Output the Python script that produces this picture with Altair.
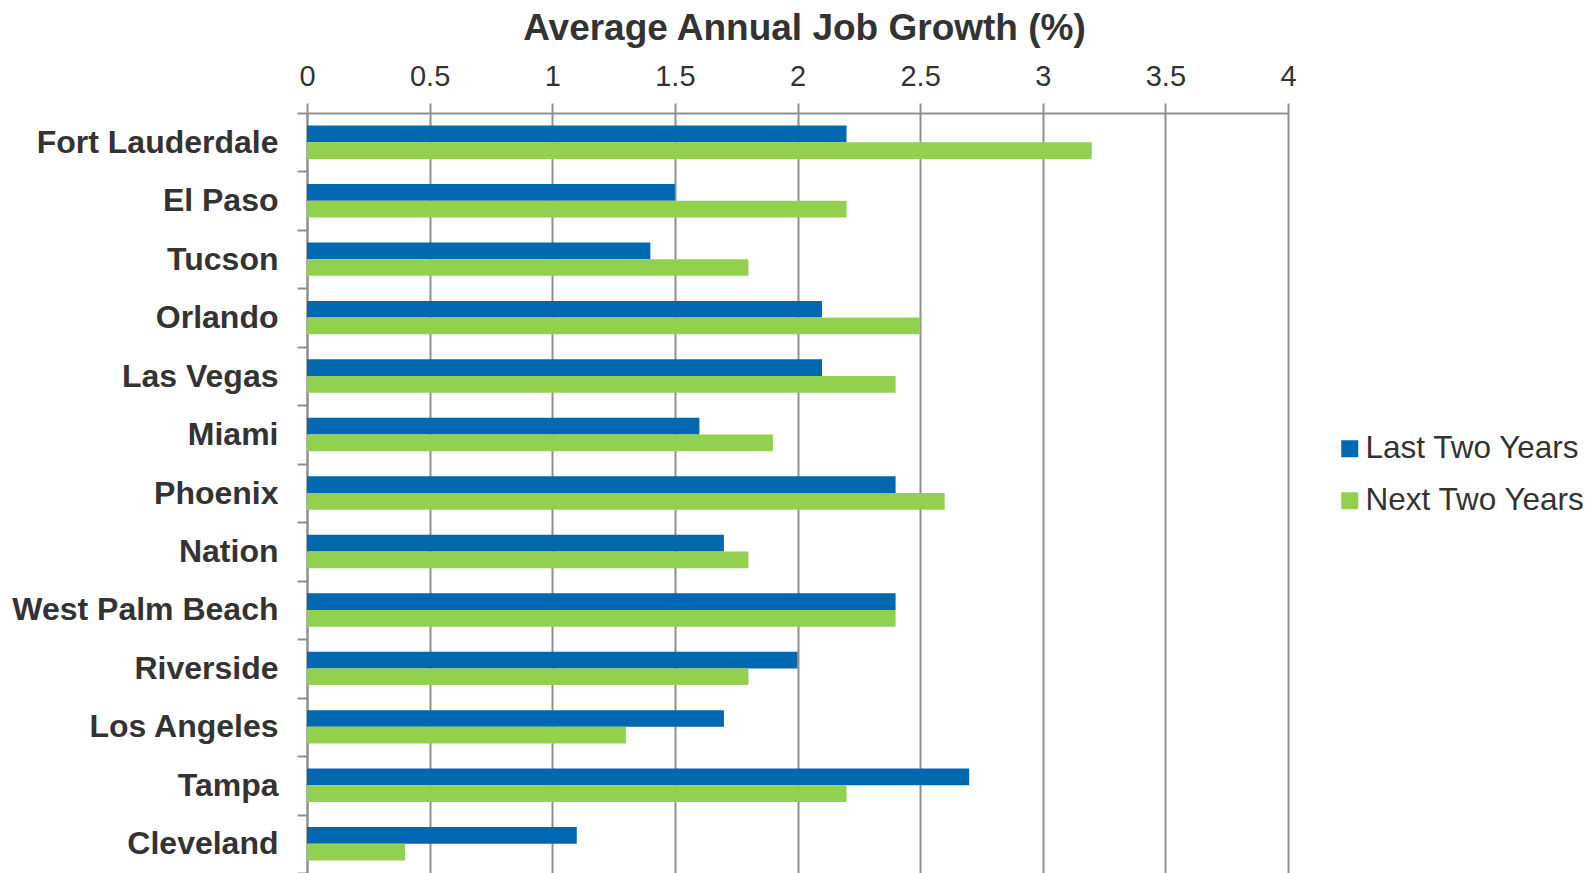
import altair as alt
import pandas as pd

cities = ["Fort Lauderdale", "El Paso", "Tucson", "Orlando", "Las Vegas", "Miami",
          "Phoenix", "Nation", "West Palm Beach", "Riverside", "Los Angeles",
          "Tampa", "Cleveland"]
last_two = [2.2, 1.5, 1.4, 2.1, 2.1, 1.6, 2.4, 1.7, 2.4, 2.0, 1.7, 2.7, 1.1]
next_two = [3.2, 2.2, 1.8, 2.5, 2.4, 1.9, 2.6, 1.8, 2.4, 1.8, 1.3, 2.2, 0.4]
series = ["Last Two Years", "Next Two Years"]
colors = ["#0068B1", "#92D050"]
x_ticks = [0, 0.5, 1, 1.5, 2, 2.5, 3, 3.5, 4]

rows = []
for c, a, b in zip(cities, last_two, next_two):
    rows.append({"city": c, "series": series[0], "value": a})
    rows.append({"city": c, "series": series[1], "value": b})
df = pd.DataFrame(rows)

FONT = "Liberation Sans"
GRAY = "#8f8f8f"
TXT = "#333333"

chart = alt.Chart(df).mark_bar().encode(
    x=alt.X("value:Q",
            scale=alt.Scale(domain=[0, 4], nice=False),
            axis=alt.Axis(orient="top", values=x_ticks, title="Average Annual Job Growth (%)",
                          format="~g",
                          labelFontSize=29, labelColor=TXT, labelFont=FONT,
                          labelBaseline="alphabetic", labelPadding=18,
                          labelFlush=False,
                          tickSize=10, tickColor=GRAY, tickWidth=2,
                          domainColor=GRAY, domainWidth=2,
                          grid=True, gridColor=GRAY, gridWidth=2,
                          titleFontSize=37, titleFontWeight="bold", titleColor=TXT,
                          titleFont=FONT, titleBaseline="alphabetic", titleY=-74,
                          titleX=497, titleAnchor="middle", titleAlign="center",
                          titlePadding=0)),
    y=alt.Y("city:N", sort=cities,
            scale=alt.Scale(paddingInner=0, paddingOuter=0),
            axis=alt.Axis(title=None, labelFontSize=32, labelFontWeight="bold",
                          labelColor=TXT, labelFont=FONT, labelPadding=19,
                          labelLimit=400,
                          tickBand="extent", tickSize=10, tickColor=GRAY, tickWidth=2,
                          domainColor=GRAY, domainWidth=2, grid=False)),
    yOffset=alt.YOffset("series:N", sort=series,
                        scale=alt.Scale(paddingOuter=0.75, paddingInner=0)),
    color=alt.Color("series:N", sort=series,
                    scale=alt.Scale(domain=series, range=colors),
                    legend=alt.Legend(title=None, orient="none", legendX=1027, legendY=320,
                                      symbolType="square", symbolSize=289,
                                      symbolStrokeWidth=0, labelFontSize=31.5,
                                      labelColor=TXT, labelFont=FONT, labelOffset=0,
                                      rowPadding=19, padding=0, labelLimit=400)),
).properties(
    width=981, height=760,
    autosize=alt.AutoSizeParams(type="none"),
    padding={"left": 299, "top": 105, "right": 300, "bottom": 0},
).configure_view(stroke=None)

chart.save("out.html", embed_options={"renderer": "svg", "actions": False})
